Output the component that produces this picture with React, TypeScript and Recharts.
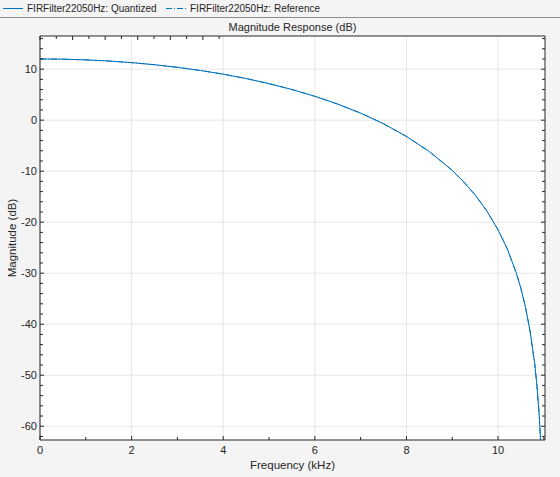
import { LineChart, Line, XAxis, YAxis, CartesianGrid } from "recharts"

// magnitude response (kHz / dB)
const FREQ_KHZ = [
  0, 0.5, 1, 1.5, 2, 2.5, 3, 3.5, 4, 4.5, 5, 5.5, 6, 6.5, 7, 7.5, 8, 8.5, 9,
  9.25, 9.5, 9.75, 10, 10.2, 10.4, 10.5, 10.6, 10.7, 10.8, 10.85, 10.9, 10.95,
]
const QUANTIZED_DB = [
  12.0, 11.96, 11.82, 11.6, 11.28, 10.87, 10.36, 9.74, 9.02, 8.16, 7.16, 6.01,
  4.68, 3.15, 1.38, -0.7, -3.19, -6.16, -9.84, -12.09, -14.66, -17.73, -21.5,
  -25.2, -30.0, -33.0, -36.7, -41.4, -47.7, -52.1, -58.0, -66.8,
]
const REFERENCE_DB = [
  12.0, 11.96, 11.82, 11.6, 11.28, 10.87, 10.36, 9.74, 9.02, 8.16, 7.16, 6.01,
  4.68, 3.15, 1.38, -0.7, -3.19, -6.16, -9.84, -12.09, -14.66, -17.73, -21.5,
  -25.2, -30.0, -33.0, -36.7, -41.4, -47.7, -52.1, -58.0, -66.8,
]
const SERIES_NAMES = ["FIRFilter22050Hz: Quantized", "FIRFilter22050Hz: Reference"]

const X_TICKS = [0, 1, 2, 3, 4, 5, 6, 7, 8, 9, 10, 11]
const X_MAJOR = [0, 2, 4, 6, 8, 10]
const Y_TICKS = [
  -62, -60, -58, -56, -54, -52, -50, -48, -46, -44, -42, -40, -38, -36, -34,
  -32, -30, -28, -26, -24, -22, -20, -18, -16, -14, -12, -10, -8, -6, -4, -2,
  0, 2, 4, 6, 8, 10, 12, 14, 16,
]
const Y_MAJOR = [-60, -50, -40, -30, -20, -10, 0, 10]

const FONT = '"Liberation Sans", Arial, sans-serif'
const BLUE = "#0072bd"
const AXIS = "#262626"
const TEXT = "#262626"
const GRID = "#e6e6e6"
const BG = "#f4f4f4"

const data = FREQ_KHZ.map((f, i) => ({ f, q: QUANTIZED_DB[i], r: REFERENCE_DB[i] }))

function BottomTick({ x, y, payload }: any) {
  const major = X_MAJOR.includes(payload.value)
  return (
    <g>
      <line x1={x} x2={x} y1={y} y2={y - (major ? 4 : 3)} stroke={AXIS} />
      {major && (
        <text x={x} y={y + 14} textAnchor="middle" fill={TEXT} fontSize={11} fontFamily={FONT}>
          {payload.value}
        </text>
      )}
    </g>
  )
}

function TopTick({ x, y, payload }: any) {
  const major = X_MAJOR.includes(payload.value)
  return <line x1={x} x2={x} y1={y} y2={y + (major ? 4 : 3)} stroke={AXIS} />
}

function LeftTick({ x, y, payload }: any) {
  const major = Y_MAJOR.includes(payload.value)
  return (
    <g>
      <line x1={x} x2={x + (major ? 4 : 3)} y1={y} y2={y} stroke={AXIS} />
      {major && (
        <text x={x - 3} y={y + 4} textAnchor="end" fill={TEXT} fontSize={11} fontFamily={FONT}>
          {payload.value}
        </text>
      )}
    </g>
  )
}

function RightTick({ x, y, payload }: any) {
  const major = Y_MAJOR.includes(payload.value)
  return <line x1={x} x2={x - (major ? 4 : 3)} y1={y} y2={y} stroke={AXIS} />
}

function LegendItem({ left, name, dash }: { left: number; name: string; dash?: string }) {
  return (
    <div style={{ position: "absolute", left, top: 0, height: 17, display: "flex", alignItems: "center" }}>
      <svg width={21} height={17}>
        <line x1={0} x2={20} y1={8.5} y2={8.5} stroke={BLUE} strokeDasharray={dash} />
      </svg>
      <span style={{ marginLeft: 3, fontSize: 10, color: TEXT, whiteSpace: "nowrap" }}>{name}</span>
    </div>
  )
}

export default function App() {
  return (
    <div style={{ position: "absolute", left: 0, top: 0, width: 560, height: 477, background: BG, fontFamily: FONT }}>
      <div style={{ position: "absolute", left: 0, top: 0, width: 560, height: 17, borderBottom: "1px solid #8c8c8c" }}>
        <LegendItem left={3} name={SERIES_NAMES[0]} />
        <LegendItem left={166} name={SERIES_NAMES[1]} dash="6 2 1 2" />
      </div>
      <LineChart width={560} height={477} data={data} margin={{ top: 0, right: 0, bottom: 0, left: 0 }}>
        <CartesianGrid
          fill="#ffffff"
          stroke={GRID}
          horizontalValues={Y_MAJOR}
          verticalValues={X_MAJOR}
        />
        <XAxis
          dataKey="f"
          type="number"
          domain={[0, 11.025]}
          ticks={X_TICKS}
          interval={0}
          allowDataOverflow
          height={37}
          tickSize={0}
          tickMargin={0}
          tickLine={false}
          axisLine={{ stroke: AXIS }}
          tick={<BottomTick />}
          label={{ value: "Frequency (kHz)", position: "insideBottom", offset: 8, fill: TEXT, fontSize: 11.5, fontFamily: FONT }}
        />
        <XAxis
          xAxisId="top"
          orientation="top"
          type="number"
          domain={[0, 11.025]}
          ticks={X_TICKS}
          interval={0}
          allowDataOverflow
          height={36}
          tickSize={0}
          tickMargin={0}
          tickLine={false}
          axisLine={{ stroke: AXIS }}
          tick={<TopTick />}
          label={{ value: "Magnitude Response (dB)", position: "insideBottom", offset: 5, fill: TEXT, fontSize: 11, fontFamily: FONT }}
        />
        <YAxis
          type="number"
          domain={[-62.7, 16.5]}
          ticks={Y_TICKS}
          interval={0}
          allowDataOverflow
          width={40}
          tickSize={0}
          tickMargin={0}
          tickLine={false}
          axisLine={{ stroke: AXIS }}
          tick={<LeftTick />}
          label={{ value: "Magnitude (dB)", angle: -90, position: "insideLeft", offset: 12, fill: TEXT, fontSize: 11.5, fontFamily: FONT, style: { textAnchor: "middle" } }}
        />
        <YAxis
          yAxisId="right"
          orientation="right"
          type="number"
          domain={[-62.7, 16.5]}
          ticks={Y_TICKS}
          interval={0}
          allowDataOverflow
          width={15}
          tickSize={0}
          tickMargin={0}
          tickLine={false}
          axisLine={{ stroke: AXIS }}
          tick={<RightTick />}
        />
        <Line dataKey="q" name={SERIES_NAMES[0]} stroke={BLUE} strokeWidth={1} dot={false} isAnimationActive={false} />
        <Line dataKey="r" name={SERIES_NAMES[1]} stroke={BLUE} strokeWidth={1} strokeDasharray="6 2 1 2" dot={false} isAnimationActive={false} />
      </LineChart>
    </div>
  )
}
